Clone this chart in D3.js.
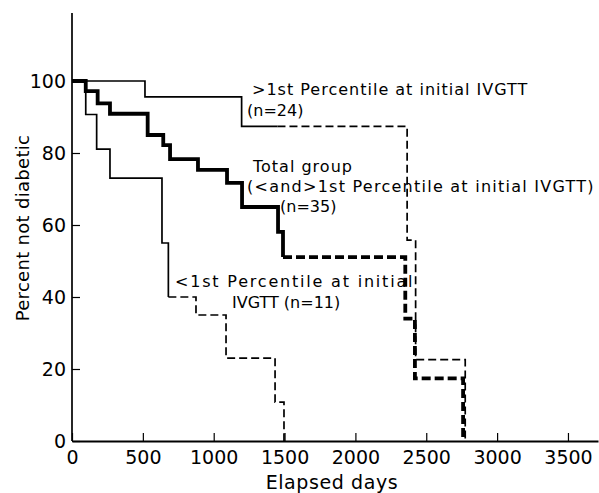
<!DOCTYPE html>
<html>
<head>
<meta charset="utf-8">
<script src="https://cdn.jsdelivr.net/npm/d3@7"></script>
<style>
  html, body { margin: 0; padding: 0; background: #fff; }
  svg { display: block; }
  text { font-family: "DejaVu Sans", "Liberation Sans", sans-serif; fill: #000; }
</style>
</head>
<body>
<svg id="chart" width="599" height="493"></svg>
<script>
// ---- data ----
const xTicks = [0, 500, 1000, 1500, 2000, 2500, 3000, 3500];
const yTicks = [0, 20, 40, 60, 80, 100];

// >1st Percentile at initial IVGTT (n=24)
const aboveDays   = [0, 515, 1197, 2365, 2425, 2775];
const aboveValues = [100, 95.6, 87.4, 55.8, 22.6, 0];
const aboveDashFrom = 1450;

// Total group (n=35)
const totalDays   = [0, 97, 181, 268, 534, 644, 692, 889, 1094, 1200, 1454, 1489, 2352, 2420, 2760];
const totalValues = [100, 97.2, 93.8, 90.9, 85.0, 82.2, 78.3, 75.3, 71.7, 65.0, 58.1, 51.1, 34.0, 17.4, 0];
const totalDashFrom = 1489;

// <1st Percentile at initial IVGTT (n=11)
const belowDays   = [0, 97, 174, 268, 635, 680, 875, 1087, 1433, 1496];
const belowValues = [100, 90.7, 81.1, 73.0, 55.0, 40.0, 35.0, 23.0, 10.8, 0];
const belowDashFrom = 680;

// ---- drawing ----
const svg = d3.select("#chart");
const x = d3.scaleLinear().domain([0, 3712]).range([72, 598]);
const y = d3.scaleLinear().domain([0, 100]).range([441, 81]);
const yTopValue = 118.9;

// axes
const gx = svg.append("g").attr("transform", `translate(0,${y(0)})`)
  .call(d3.axisBottom(x).tickValues(xTicks).tickSizeInner(-8).tickSizeOuter(0).tickFormat(d3.format("d")));
gx.select(".domain").attr("stroke", "#000").attr("stroke-width", 2);
gx.selectAll(".tick line").attr("stroke", "#000").attr("stroke-width", 1.2);
gx.selectAll(".tick text").attr("y", 23).attr("dy", null)
  .style("font-size", "19px").attr("fill", "#000");

const gy = svg.append("g").attr("transform", `translate(${x(0)},0)`)
  .call(d3.axisLeft(y).tickValues(yTicks).tickSizeInner(-8).tickSizeOuter(0).tickFormat(d3.format("d")));
gy.select(".domain").attr("d", `M0,${y(0)}V${y(yTopValue)}`).attr("stroke", "#000").attr("stroke-width", 1.7);
gy.selectAll(".tick line").attr("stroke", "#000").attr("stroke-width", 1.2);
gy.selectAll(".tick text").attr("x", -6).attr("dy", "0.36em")
  .style("font-size", "19px").attr("fill", "#000");

// axis titles
svg.append("text").attr("x", 332).attr("y", 489).attr("text-anchor", "middle")
  .style("font-size", "19px").style("letter-spacing", "0.6px").text("Elapsed days");
svg.append("text").attr("transform", "translate(29,228) rotate(-90)").attr("text-anchor", "middle")
  .style("font-size", "18px").style("letter-spacing", "0.3px").text("Percent not diabetic");

// step curves
const line = d3.line().x(d => x(d[0])).y(d => y(d[1])).curve(d3.curveStepAfter);

function split(days, values, dashFrom) {
  const pts = days.map((d, i) => [d, values[i]]);
  const valAt = t => { let v = values[0]; days.forEach((d, i) => { if (d <= t) v = values[i]; }); return v; };
  const solid = pts.filter(p => p[0] <= dashFrom);
  if (solid[solid.length - 1][0] < dashFrom) solid.push([dashFrom, valAt(dashFrom)]);
  const dashed = [[dashFrom, valAt(dashFrom)]].concat(pts.filter(p => p[0] > dashFrom));
  return { solid, dashed };
}

function drawSeries(days, values, dashFrom, width, dash) {
  const s = split(days, values, dashFrom);
  svg.append("path").attr("d", line(s.solid)).attr("fill", "none")
    .attr("stroke", "#000").attr("stroke-width", width).attr("stroke-linejoin", "miter");
  svg.append("path").attr("d", line(s.dashed)).attr("fill", "none")
    .attr("stroke", "#000").attr("stroke-width", width).attr("stroke-dasharray", dash);
}

drawSeries(belowDays, belowValues, belowDashFrom, 1.7, "8,4");
drawSeries(aboveDays, aboveValues, aboveDashFrom, 1.7, "8,4");
drawSeries(totalDays, totalValues, totalDashFrom, 3.8, "9,4");

// annotations
const ann = [
  { t: ">1st Percentile at initial IVGTT", x: 252, y: 95, ls: 1 },
  { t: "(n=24)", x: 247, y: 116, ls: 0 },
  { t: "Total group", x: 253, y: 172, ls: 1 },
  { t: "(<and>1st Percentile at initial IVGTT)", x: 247, y: 192, ls: 1.25 },
  { t: "(n=35)", x: 280, y: 212, ls: 0 },
  { t: "<1st Percentile at initial", x: 175, y: 287, ls: 1.8 },
  { t: "IVGTT (n=11)", x: 232, y: 308, ls: 0 }
];
svg.selectAll("text.ann").data(ann).enter().append("text").attr("class", "ann")
  .attr("x", d => d.x).attr("y", d => d.y)
  .style("font-size", "16px").style("letter-spacing", d => d.ls + "px").text(d => d.t);
</script>
</body>
</html>
